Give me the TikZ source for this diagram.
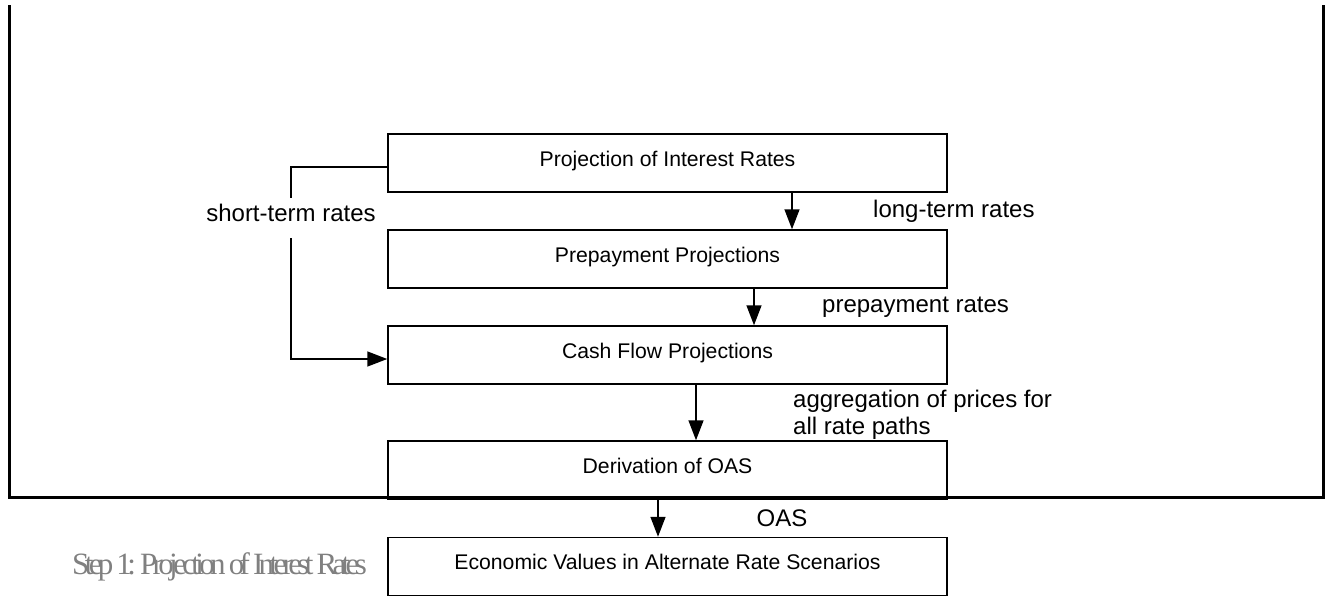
\documentclass[tikz,border=0pt]{standalone}
\usepackage{fontspec}
\setmainfont{Liberation Sans}
\newfontfamily\stepfont[LetterSpace=-15]{Liberation Serif}
\usetikzlibrary{arrows.meta}
\begin{document}
\begin{tikzpicture}[x=1pt,y=-1pt,
  procbox/.style={draw=black, line width=1.5pt, minimum width=559pt, minimum height=58pt,
    inner sep=0pt, text height=15pt, text depth=8.4pt, font=\fontsize{21.2}{25}\selectfont},
  lbl/.style={inner sep=0pt, font=\fontsize{24}{27}\selectfont},
  arr/.style={line width=1.5pt, -{Triangle[length=20pt,width=15pt]}},
  conn/.style={line width=1.5pt},
  frameline/.style={line width=3pt}]
\useasboundingbox (0,0) rectangle (1325,600);
% outer frame
\draw[frameline] (9,5) -- (9,497) -- (1323,497) -- (1323,5);
% boxes
\node[procbox] (b1) at (667.5,163) {Projection of Interest Rates};
\node[procbox] (b2) at (667.5,259) {Prepayment Projections};
\node[procbox] (b3) at (667.5,355) {Cash Flow Projections};
\node[procbox] (b4) at (667.5,470) {Derivation of OAS};
\node[procbox] (b5) at (667.5,566.5) {Economic Values in Alternate Rate Scenarios};
% labels
\node[lbl, anchor=base west] (lt) at (873,217) {long-term rates};
\node[lbl, anchor=base west] (pr) at (822,312) {prepayment rates};
\node[lbl, anchor=north west, align=left] (ag) at (793,389.5) {aggregation of prices for\\all rate paths};
\node[lbl, anchor=base] (oas) at (782,526) {OAS};
\node[lbl, minimum height=40pt, text height=12pt, text depth=6pt, fill=white] (st) at (291,218) {short-term rates};
\node[anchor=base west, inner sep=0pt, text=black!50, font=\stepfont\fontsize{31}{34}\selectfont] (step) at (72,574) {Step 1: Projection of Interest Rates};
% connectors
\draw[arr] (b1.south -| 792,0) -- (b2.north -| 792,0);
\draw[arr] (b2.south -| 754,0) -- (b3.north -| 754,0);
\draw[arr] (b3.south -| 696,0) -- (b4.north -| 696,0);
\draw[arr] (b4.south -| 658,0) -- (b5.north -| 658,0);
\draw[conn] (b1.west |- 0,167) -| (st.north);
\draw[arr] (st.south) |- (b3.west |- 0,359);
\end{tikzpicture}
\end{document}
